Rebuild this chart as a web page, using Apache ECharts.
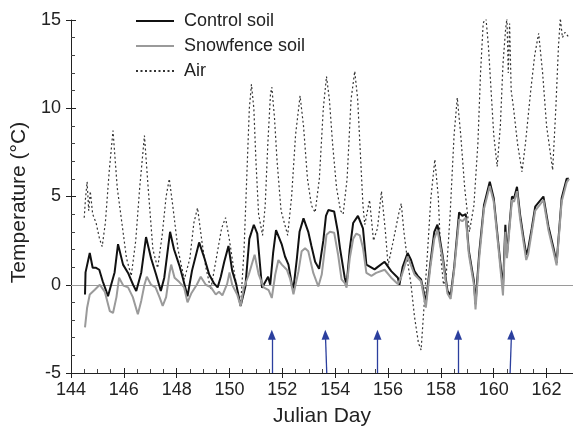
<!DOCTYPE html>
<html><head><meta charset="utf-8">
<script src="https://cdn.jsdelivr.net/npm/echarts@6/dist/echarts.min.js"></script>
<style>html,body{margin:0;padding:0;background:#fff}#c{width:573px;height:432px}</style>
</head><body><div id="c"></div>
<script>
var controlDays = [144.53,144.55,144.6,144.71,144.82,144.95,145.07,145.2,145.33,145.4,145.52,145.65,145.78,145.97,146.16,146.35,146.47,146.66,146.84,147.03,147.22,147.4,147.53,147.75,147.9,148.1,148.23,148.41,148.58,148.85,149.05,149.23,149.42,149.55,149.67,149.8,149.96,150.1,150.25,150.42,150.6,150.75,150.92,151.05,151.23,151.46,151.54,151.65,151.76,151.98,152.1,152.23,152.36,152.42,152.55,152.65,152.8,152.98,153.1,153.24,153.39,153.45,153.55,153.65,153.74,153.96,154.1,154.18,154.36,154.43,154.55,154.68,154.86,155.05,155.18,155.49,155.6,155.87,156.12,156.37,156.43,156.55,156.74,156.87,157.0,157.12,157.25,157.43,157.6,157.75,157.87,158.06,158.25,158.37,158.5,158.69,158.81,158.94,159.06,159.25,159.31,159.45,159.63,159.85,160.0,160.19,160.35,160.44,160.5,160.69,160.77,160.88,161.0,161.13,161.23,161.3,161.44,161.57,161.88,162.07,162.26,162.38,162.57,162.76,162.85];
var controlTemps = [-0.55,0.7,0.7,1.8,0.96,0.96,0.85,0.2,-0.35,-0.65,0.0,0.7,2.3,1.14,0.67,0.0,-0.35,0.7,2.7,1.5,0.58,-0.35,0.4,3.0,2.0,1.1,0.4,-0.65,0.8,2.4,1.5,0.58,0.06,-0.15,0.45,1.3,2.2,0.8,0.05,-1.2,-0.1,2.6,3.4,2.9,-0.17,0.45,0.0,1.8,3.1,2.27,1.6,1.14,0.0,-0.2,1.5,3.0,3.76,3.0,2.2,1.3,0.9,1.0,2.5,3.9,4.23,4.15,3.0,2.08,0.4,0.0,2.0,3.5,3.9,3.2,1.14,0.87,1.0,1.3,0.77,0.4,0.0,1.0,1.8,1.4,0.77,0.5,0.3,-1.0,1.2,3.0,3.4,1.7,-0.35,-0.6,0.95,4.1,3.9,4.0,1.9,0.2,-1.1,1.8,4.5,5.83,4.9,2.1,-0.17,3.4,1.7,5.0,4.9,5.55,3.95,2.64,1.7,2.0,3.2,4.42,5.0,3.3,2.1,1.24,4.9,6.0,6.0];

var snowDays = [144.53,144.61,144.71,144.9,145.09,145.28,145.47,145.59,145.72,145.82,145.98,146.16,146.34,146.53,146.66,146.78,146.87,147.03,147.2,147.35,147.47,147.6,147.72,147.79,147.92,148.1,148.28,148.41,148.55,148.76,148.91,149.1,149.3,149.48,149.6,149.73,149.91,150.0,150.1,150.29,150.42,150.54,150.73,150.95,151.1,151.29,151.48,151.6,151.73,151.85,151.98,152.17,152.3,152.42,152.61,152.73,152.86,152.98,153.17,153.36,153.49,153.67,153.8,153.96,154.11,154.24,154.36,154.43,154.55,154.68,154.8,154.93,155.05,155.18,155.37,155.55,155.87,156.12,156.37,156.49,156.74,157.0,157.25,157.43,157.6,157.75,157.87,158.06,158.25,158.37,158.5,158.69,158.81,158.94,159.06,159.25,159.31,159.45,159.63,159.85,160.0,160.19,160.35,160.44,160.5,160.69,160.77,160.88,161.0,161.13,161.23,161.3,161.44,161.57,161.88,162.07,162.26,162.38,162.57,162.76,162.85];
var snowTemps = [-2.42,-1.3,-0.55,-0.28,0.0,-0.4,-1.5,-1.6,-0.7,0.4,-0.05,-0.15,-0.7,-1.67,-0.9,0.0,0.45,0.0,-0.15,-0.7,-1.2,-0.7,0.58,1.14,0.4,0.15,-0.15,-1.0,-0.5,0.0,0.45,0.0,-0.15,-0.55,-0.4,-0.6,0.05,0.7,0.0,-0.55,-1.2,-0.17,0.58,1.7,0.6,-0.15,-0.3,-0.75,0.58,1.4,1.14,0.85,0.3,-0.54,0.77,1.9,2.07,1.9,0.67,-0.1,0.58,2.83,3.0,2.95,1.7,0.3,0.1,-0.17,1.5,2.6,2.9,2.8,2.1,0.67,0.5,0.67,0.85,0.4,0.04,0.4,1.6,0.58,0.2,-1.3,1.0,2.6,3.1,1.5,-0.5,-0.8,0.8,3.7,3.6,3.8,1.7,0.0,-1.4,1.5,4.3,5.6,4.7,1.9,-0.6,3.0,1.5,4.8,4.7,5.3,3.7,2.4,1.4,1.7,3.0,4.2,4.8,3.1,1.9,1.1,4.7,5.8,6.0];

var airDays = [144.5,144.55,144.61,144.67,144.73,144.82,144.95,145.08,145.18,145.3,145.45,145.59,145.75,145.9,146.1,146.28,146.45,146.6,146.78,146.92,147.1,147.28,147.45,147.6,147.72,147.85,148.05,148.29,148.5,148.65,148.79,148.95,149.1,149.29,149.5,149.7,149.85,150.0,150.2,150.42,150.55,150.65,150.75,150.83,150.92,151.0,151.1,151.25,151.35,151.45,151.55,151.6,151.7,151.8,151.95,152.2,152.35,152.5,152.67,152.8,152.95,153.1,153.24,153.4,153.55,153.67,153.78,153.9,154.05,154.2,154.3,154.45,154.6,154.74,154.85,154.95,155.05,155.12,155.3,155.45,155.6,155.75,155.9,156.0,156.2,156.4,156.5,156.6,156.75,156.87,157.0,157.15,157.25,157.35,157.5,157.62,157.77,157.9,158.0,158.1,158.2,158.35,158.5,158.62,158.75,158.9,159.08,159.25,159.4,159.5,159.6,159.7,159.8,159.9,160.0,160.13,160.25,160.35,160.45,160.5,160.55,160.6,160.66,160.75,160.9,161.07,161.2,161.4,161.55,161.7,161.85,162.0,162.23,162.35,162.45,162.52,162.6,162.7,162.85];
var airTemps = [3.8,4.9,5.83,4.2,5.3,4.0,3.5,2.6,2.17,3.5,6.5,8.73,5.5,3.8,1.5,0.5,2.5,5.5,8.45,5.5,2.0,0.95,2.8,5.0,6.0,4.5,2.0,0.3,1.5,3.5,4.36,2.5,1.0,-0.26,1.5,3.2,3.8,2.5,0.5,-1.2,2.0,6.0,10.0,11.35,10.0,7.0,4.0,2.8,4.5,8.0,10.8,11.2,9.5,7.0,4.2,2.8,5.0,8.5,10.7,9.0,6.0,4.5,4.1,6.0,10.0,11.8,10.5,8.0,5.5,4.2,4.0,6.0,10.5,12.1,10.5,7.5,4.5,3.4,4.8,2.5,3.2,5.3,3.0,1.1,2.5,4.0,4.6,3.0,1.2,0.0,-1.8,-3.3,-3.7,-1.5,2.0,4.9,7.1,5.0,1.5,0.0,0.5,4.0,8.5,10.6,8.5,5.5,3.0,4.5,8.0,12.0,14.8,15.2,13.5,11.0,8.5,6.7,9.0,12.5,14.5,15.1,12.0,14.8,11.0,10.0,8.0,6.4,8.0,11.0,13.0,14.25,12.0,9.0,6.5,10.0,13.5,15.1,14.0,14.3,14.0];

var arrowBaseDays = [151.6,153.68,155.6,158.65,160.62];
var arrowTipDays  = [151.6,153.63,155.6,158.65,160.67];
var arrowBase = -5, arrowTip = -2.83;

var seriesNames = ['Control soil','Snowfence soil','Air'];
var xTicks = {min:144, max:163, interval:2};
var yTicks = {min:-5, max:15, interval:5};

function pairs(xs, ys){ return xs.map(function(x,i){ return [x, ys[i]]; }); }

var FONT = '"Liberation Sans", Arial, Helvetica, sans-serif';
var chart = echarts.init(document.getElementById('c'), null, {renderer:'canvas'});
var arrowLines = arrowBaseDays.map(function(d,i){
  return [{coord:[d, arrowBase]}, {coord:[arrowTipDays[i], arrowTip]}];
});
chart.setOption({
  animation:false,
  backgroundColor:'#fff',
  grid:{left:71, right:-3, top:20, bottom:56, containLabel:false},
  legend:{
    data:seriesNames, orient:'vertical', left:135, top:12, padding:0,
    itemWidth:38, itemHeight:16, itemGap:7,
    itemStyle:{opacity:0},
    textStyle:{fontFamily:FONT, fontSize:18, color:'#222', padding:[0,0,0,5]},
    selectedMode:false
  },
  xAxis:[{
    type:'value', min:xTicks.min, max:xTicks.max, interval:xTicks.interval,
    name:'Julian Day', nameLocation:'middle', nameGap:33,
    nameTextStyle:{fontFamily:FONT, fontSize:21, color:'#222'},
    axisLine:{show:true, onZero:false, lineStyle:{color:'#222', width:1}},
    axisTick:{show:true, inside:false, length:5, lineStyle:{color:'#222'}},
    axisLabel:{fontFamily:FONT, fontSize:18, color:'#222', margin:8, showMaxLabel:false},
    splitLine:{show:false}
  },{
    type:'value', position:'bottom', min:xTicks.min, max:xTicks.max, interval:xTicks.interval,
    axisLine:{show:false, onZero:false},
    axisTick:{show:true, inside:true, length:5, lineStyle:{color:'#222'}},
    minorTick:{show:true, splitNumber:4, length:4, lineStyle:{color:'#444'}},
    axisLabel:{show:false}, splitLine:{show:false}
  }],
  yAxis:[{
    type:'value', min:yTicks.min, max:yTicks.max, interval:yTicks.interval,
    name:'Temperature (°C)', nameLocation:'middle', nameGap:41,
    nameTextStyle:{fontFamily:FONT, fontSize:21, color:'#222', padding:[0,12,0,0]},
    axisLine:{show:true, onZero:false, lineStyle:{color:'#222', width:1}},
    axisTick:{show:true, inside:false, length:5, lineStyle:{color:'#222'}},
    axisLabel:{fontFamily:FONT, fontSize:18, color:'#222', margin:10},
    splitLine:{show:false}
  },{
    type:'value', position:'left', min:yTicks.min, max:yTicks.max, interval:yTicks.interval,
    axisLine:{show:false, onZero:false},
    axisTick:{show:true, inside:true, length:5, lineStyle:{color:'#222'}},
    minorTick:{show:true, splitNumber:5, length:4, lineStyle:{color:'#444'}},
    axisLabel:{show:false}, splitLine:{show:false}
  }],
  series:[
    {name:'Air', type:'line', data:pairs(airDays, airTemps), showSymbol:false, symbol:'none',
     lineStyle:{color:'#333', width:1.2, type:[2,2.5]}, itemStyle:{color:'#333'}, z:2},
    {name:'Control soil', type:'line', data:pairs(controlDays, controlTemps), showSymbol:false, symbol:'none',
     lineStyle:{color:'#111', width:2}, itemStyle:{color:'#111'}, z:3,
     markLine:{silent:true, symbol:['none','none'], label:{show:false},
       lineStyle:{color:'#9a9a9a', width:1, type:'solid'}, data:[{yAxis:0}], z:1}},
    {name:'Snowfence soil', type:'line', data:pairs(snowDays, snowTemps), showSymbol:false, symbol:'none',
     lineStyle:{color:'#9a9a9a', width:2}, itemStyle:{color:'#9a9a9a'}, z:4},
    {name:'arrows', type:'line', data:[], symbol:'none',
     markLine:{silent:true, symbol:['none','triangle'], symbolSize:[8,10], label:{show:false},
       lineStyle:{color:'#2b3f9e', width:1.3, type:'solid'}, data:arrowLines}}
  ]
});
</script></body></html>
